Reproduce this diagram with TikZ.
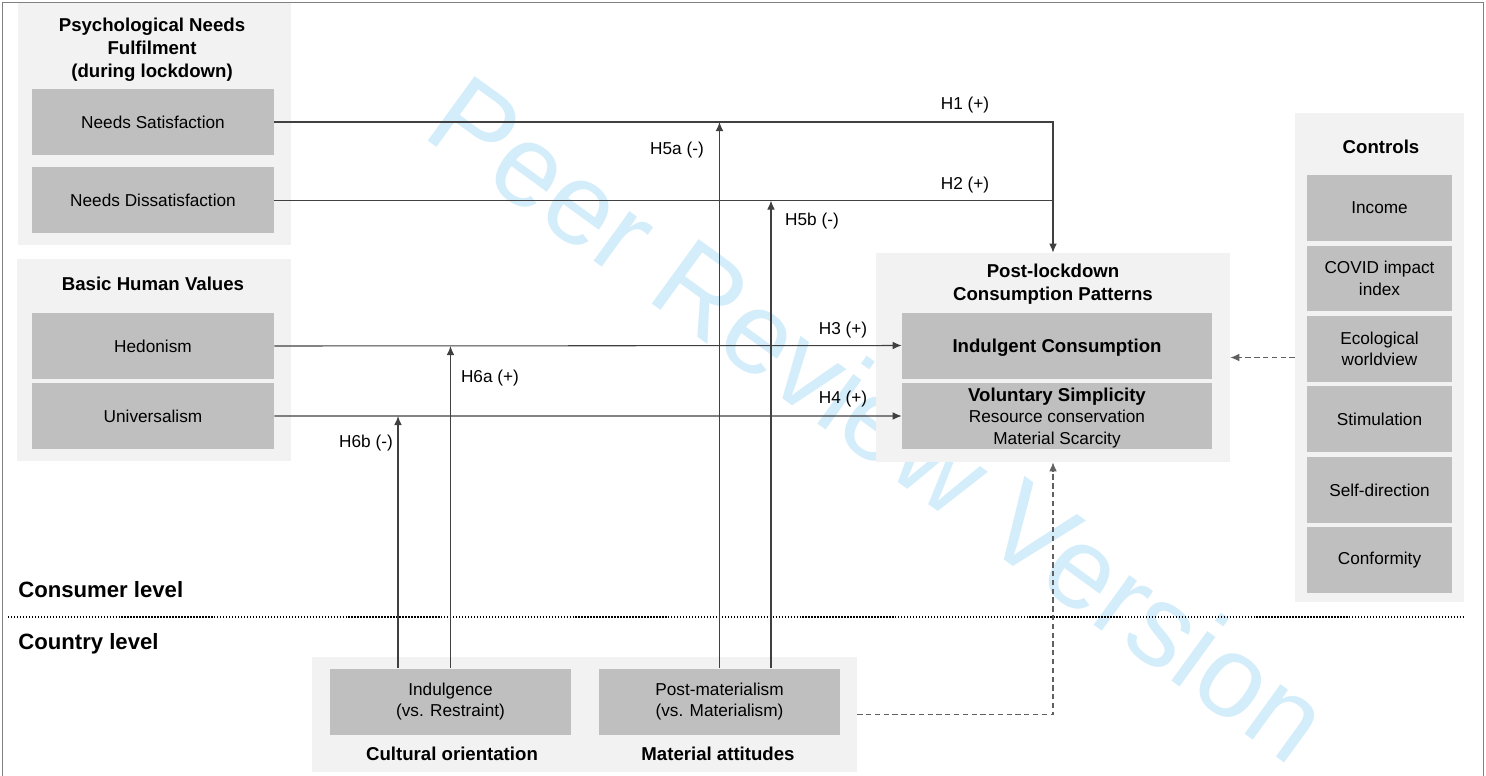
\documentclass[tikz,border=0pt]{standalone}
\usepackage{fontspec}
\setmainfont{Liberation Sans}
\usetikzlibrary{arrows.meta}

\definecolor{grpgray}{RGB}{242,242,242}
\definecolor{boxgray}{RGB}{191,191,191}
\definecolor{linegray}{RGB}{64,64,64}
\definecolor{dashgray}{RGB}{96,96,96}
\definecolor{framegray}{RGB}{128,128,128}
\definecolor{wmblue}{RGB}{212,237,250}

\begin{document}
\begin{tikzpicture}[x=0.02cm,y=-0.02cm,>={Latex[length=5.2pt,width=4.4pt]},
	group/.style={rectangle,fill=grpgray,inner sep=0pt},
	item/.style={rectangle,fill=boxgray,inner sep=0pt,minimum width=4.84cm,minimum height=1.32cm,align=center,font=\fontsize{9.8}{12.2}\selectfont},
	ctrl/.style={item,minimum width=2.9cm,node distance=1.41cm},
	title/.style={align=center,font=\fontsize{10.6}{13.1}\selectfont\bfseries},
	hyp/.style={font=\fontsize{9.8}{12}\selectfont,inner sep=0pt},
	lvltext/.style={anchor=west,inner sep=0pt,font=\fontsize{12.6}{15}\selectfont\bfseries},
	link/.style={draw=linegray,line width=0.6pt},
	ctl link/.style={draw=dashgray,line width=0.6pt,dash pattern=on 3pt off 2pt}]
	
	\useasboundingbox (0,0) rectangle (1486,775);
	
	% watermark
	\node[rotate=-36,text=wmblue,font=\fontsize{66}{66}\selectfont] (wm) at (880,418) {Peer Review Version};
	
	% groups
	\node[group,minimum width=5.46cm,minimum height=4.84cm] (needs) at (154.5,124) {};
	\node[group,minimum width=5.48cm,minimum height=4.04cm] (values) at (154,360) {};
	\node[group,minimum width=7.08cm,minimum height=4.18cm] (post) at (1053,357.5) {};
	\node[group,minimum width=3.38cm,minimum height=9.78cm] (controls) at (1379.5,357.5) {};
	\node[group,minimum width=10.9cm,minimum height=2.3cm] (country) at (584.5,714.5) {};
	
	\node[title] (needsT) at (152,50) {Psychological Needs\\Fulfilment\\(during lockdown)};
	\node[title] (valuesT) at (153,284) {Basic Human Values};
	\node[title] (postT) at (1053,284) {Post-lockdown\\Consumption Patterns};
	\node[title] (controlsT) at (1381,147) {Controls};
	\node[title] (cultT) at (452,754) {Cultural orientation};
	\node[title] (matT) at (718,754) {Material attitudes};
	
	% boxes
	\node[item] (sat) at (153,122) {Needs Satisfaction};
	\node[item,below of=sat,node distance=1.57cm] (dis) {Needs Dissatisfaction};
	\node[item] (hed) at (153,346) {Hedonism};
	\node[item,below of=hed,node distance=1.4cm] (uni) {Universalism};
	\node[item,minimum width=6.2cm,text depth=0pt] (indc) at (1057,345.5) {\fontsize{10.6}{12}\selectfont\bfseries Indulgent Consumption};
	\node[item,minimum width=6.2cm,text depth=0pt,below of=indc,node distance=1.41cm] (vol) {{\fontsize{10.6}{12}\selectfont\bfseries Voluntary Simplicity}\\Resource conservation\\Material Scarcity};
	\node[item] (indg) at (450.5,701.5) {Indulgence\\(vs. Restraint)};
	\node[item] (pmat) at (719.5,701.5) {Post-materialism\\(vs. Materialism)};
	
	\node[ctrl] (inc) at (1379.5,208) {Income};
	\node[ctrl,below of=inc] (covid) {COVID impact\\index};
	\node[ctrl,below of=covid] (eco) {Ecological\\worldview};
	\node[ctrl,below of=eco] (stim) {Stimulation};
	\node[ctrl,below of=stim] (self) {Self-direction};
	\node[ctrl,below of=self] (conf) {Conformity};
	
	% levels
	\node[lvltext] (consumer) at (18,590) {Consumer level};
	\node[lvltext] (countrylvl) at (18,644) {Country level};
	\coordinate (divL) at (8,617);
	\coordinate (divR) at (1464,617);
	\draw[black,line width=0.8pt,dash pattern=on 0.8pt off 0.9pt] (divL) -- (divR);
	
	% paths
	\draw[link,->] (sat.east) -| (post.north);
	\draw[link] (dis.east) -- (dis.east -| post.north);
	\draw[link,->] (hed.east) -- (indc.west);
	\draw[link,->] (uni.east) -- (vol.west);
	\draw[link,->] (pmat.north) -- (pmat.north |- sat.east);
	\coordinate (h5bfoot) at ([xshift=1.03cm]pmat.north);
	\draw[link,->] (h5bfoot) -- (h5bfoot |- dis.east);
	\draw[link,->] (indg.north) -- (indg.north |- hed.east);
	\coordinate (h6bfoot) at ([xshift=-1.05cm]indg.north);
	\draw[link,->] (h6bfoot) -- (h6bfoot |- uni.east);
	\draw[ctl link,->] (country.east) -| (post.south);
	\draw[ctl link,->] (controls.west) -- (post.east);
	
	\node[hyp] (h1) at (965,105) {H1 (+)};
	\node[hyp] (h2) at (965,185) {H2 (+)};
	\node[hyp] (h3) at (843,330) {H3 (+)};
	\node[hyp] (h4) at (843,399) {H4 (+)};
	\node[hyp] (h5a) at (677,150) {H5a (-)};
	\node[hyp] (h5b) at (812,221) {H5b (-)};
	\node[hyp] (h6a) at (490,378) {H6a (+)};
	\node[hyp] (h6b) at (366,443) {H6b (-)};
	
	% frame
	\draw[framegray,line width=1.1pt] (2.5,780) -- (2.5,2.5) -- (1483.5,2.5) -- (1483.5,780);
\end{tikzpicture}
\end{document}
